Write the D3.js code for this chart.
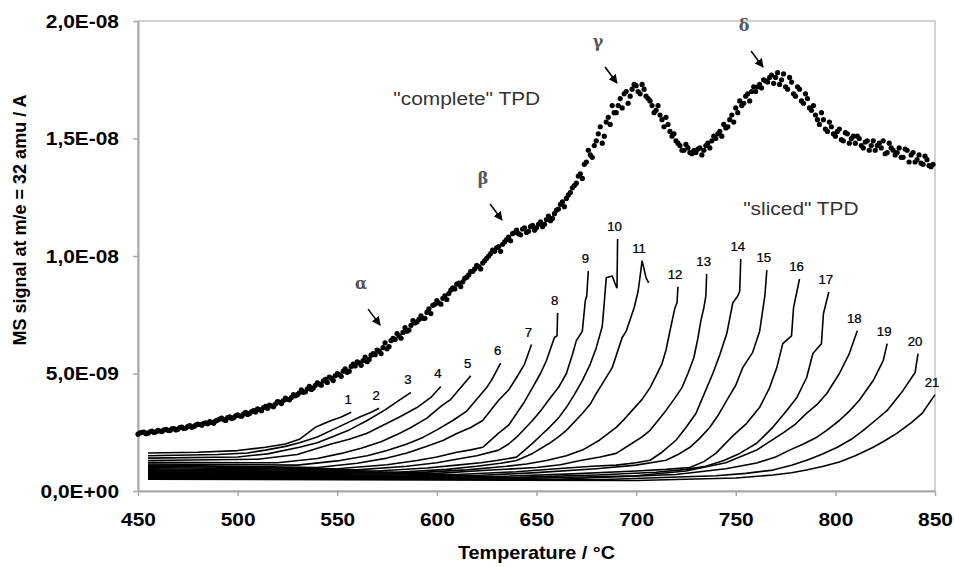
<!DOCTYPE html>
<html><head><meta charset="utf-8">
<script src="https://cdn.jsdelivr.net/npm/d3@7"></script>
<style>
html,body{margin:0;padding:0;background:#fff;}
svg{display:block;}
text{font-family:"Liberation Sans",Arial,sans-serif;}
</style></head>
<body><svg id="chart" width="954" height="567"></svg>
<script>
// ---------- DATA (signal values in units of 1e-9 A) ----------
const xTicks = [450,500,550,600,650,700,750,800,850];
const yTicks = [0,5,10,15,20];
const yTickLabels = ["0,0E+00","5,0E-09","1,0E-08","1,5E-08","2,0E-08"];

// "complete" TPD: readings at even temperatures (450, 452, ... 848 °C)
const completeEvenStart = 450, completeStep = 2;
const completeEven = [
 2.42,2.5,2.44,2.52,2.49, 2.58,2.53,2.62,2.57,2.66, 2.63,2.72,2.68,2.78,2.74,
 2.85,2.8,2.9,2.95,2.88, 3.02,3.1,3.0,3.16,3.12, 3.24,3.18,3.35,3.3,3.42,
 3.5,3.42,3.6,3.66,3.58, 3.8,3.72,3.95,3.88,4.1, 4.1,4.3,4.22,4.45,4.38,
 4.6,4.5,4.75,4.85,4.7, 5.0,4.88,5.2,5.1,5.4, 5.5,5.35,5.7,5.6,5.85,
 6.0,5.85,6.3,6.15,6.5, 6.7,6.5,6.95,6.85,7.25, 7.2,7.45,7.35,7.75,7.9,
 8.1,7.95,8.3,8.4,8.65, 8.8,8.7,9.05,9.2,9.35, 9.6,9.45,9.8,10.0,10.25,
 10.35,10.2,10.6,10.8,10.95, 11.1,10.9,11.2,11.05,11.3, 11.2,11.45,11.35,11.7,11.6,
 11.95,12.2,12.1,12.6,12.9, 13.1,13.5,13.9,14.5,14.2, 14.9,15.5,15.1,15.9,16.4,
 16.1,16.7,16.9,16.5,17.1, 17.25,16.9,17.1,16.7,16.4, 16.2,16.0,15.5,15.6,15.1,
 14.9,14.7,14.5,14.6,14.35, 14.4,14.6,14.5,14.8,14.9, 15.0,15.3,15.6,15.5,16.0,
 16.3,16.6,16.5,16.9,17.0, 17.0,17.3,17.5,17.4,17.7, 17.6,17.3,17.75,17.1,17.4,
 16.8,17.1,16.5,16.7,16.2, 16.0,15.6,15.8,15.3,15.5, 15.1,15.4,14.9,15.2,15.0,
 14.8,15.0,14.6,14.9,14.7, 14.5,14.8,14.9,14.4,14.6, 14.3,14.6,14.2,14.5,14.3,
 14.0,14.3,13.9,14.1,13.8
];
// readings at odd temperatures (451, 453, ... 849 °C)
const completeOddStart = 451;
const completeOdd = [
 2.47,2.51,2.46,2.55,2.52, 2.55,2.6,2.58,2.64,2.6, 2.7,2.66,2.75,2.71,2.8,
 2.83,2.88,2.86,2.92,2.98, 3.06,3.04,3.12,3.08,3.2, 3.2,3.28,3.26,3.38,3.36,
 3.46,3.55,3.52,3.62,3.7, 3.78,3.85,3.9,3.98,4.05, 4.18,4.2,4.35,4.32,4.5,
 4.55,4.68,4.62,4.8,4.9, 4.95,5.1,5.05,5.3,5.32, 5.45,5.55,5.5,5.78,5.8,
 5.95,6.1,6.05,6.4,6.45, 6.6,6.75,6.8,7.05,7.15, 7.3,7.35,7.6,7.55,7.95,
 8.0,8.2,8.15,8.55,8.6, 8.85,8.9,9.1,9.35,9.45, 9.55,9.7,9.9,10.1,10.2,
 10.4,10.5,10.7,10.65,11.0, 10.95,11.15,11.0,11.25,11.1, 11.35,11.25,11.55,11.5,11.8,
 12.0,12.3,12.45,12.7,13.0, 13.4,13.3,14.0,14.3,14.7, 15.2,14.8,15.7,15.6,16.1,
 16.4,16.3,17.0,16.8,17.3, 17.0,17.3,16.8,16.6,16.1, 16.4,15.8,15.9,15.3,15.2,
 14.8,14.5,14.75,14.4,14.5, 14.55,14.3,14.7,14.6,15.1, 15.2,15.1,15.45,15.8,15.7,
 16.1,16.4,16.8,16.6,17.2, 17.2,17.15,17.45,17.6,17.35, 17.8,17.5,17.2,17.6,16.9,
 17.2,16.6,16.9,16.3,16.4, 15.8,16.1,15.4,15.7,15.2, 15.3,14.95,15.25,14.8,15.1,
 15.1,14.7,14.85,14.5,14.9, 14.7,14.6,14.35,14.8,14.5, 14.4,14.2,14.55,14.0,14.4,
 14.1,13.95,14.25,13.85,13.9
];

// "sliced" TPD runs: [temperature °C, signal]
const slice1 = [[455,1.62],[480,1.65],[500,1.72],[514,1.86],[524,2.0],[531,2.2],[539,2.71],[547,3.0],[552,3.15],[557,3.35]];
const slice2 = [[455,1.5],[490,1.55],[505,1.62],[514,1.74],[524,1.9],[531,2.05],[540,2.3],[547,2.58],[555,2.9],[561,3.14],[567,3.35],[571,3.52]];
const slice3 = [[455,1.4],[500,1.45],[515,1.58],[531,1.86],[540,2.05],[547,2.29],[556,2.6],[565,3.0],[574,3.45],[581,3.86],[587,4.2]];
const slice4 = [[455,1.3],[510,1.35],[530,1.55],[547,2.0],[556,2.2],[565,2.46],[573,2.8],[581,3.14],[590,3.55],[597,3.98],[602,4.45]];
const slice5 = [[455,1.22],[520,1.2],[540,1.38],[552,1.6],[562,1.82],[572,2.1],[580,2.4],[587,2.7],[595,3.1],[602,3.6],[607,3.9],[612,4.4],[617,4.9]];
const slice6 = [[455,1.15],[530,1.1],[550,1.28],[565,1.5],[575,1.72],[585,2.0],[593,2.28],[600,2.6],[608,3.0],[615,3.4],[620,3.9],[625,4.4],[628,4.8],[632,5.44]];
const slice7 = [[455,1.1],[540,1.0],[560,1.18],[575,1.4],[585,1.62],[595,1.9],[603,2.15],[610,2.45],[617,2.7],[623,3.0],[631,3.86],[636,4.3],[640,4.83],[644,5.4],[647.5,6.23]];
const slice8 = [[455,1.05],[550,0.95],[575,1.12],[590,1.3],[600,1.45],[610,1.65],[617,1.75],[623,1.86],[631,2.46],[636,2.8],[640,3.3],[644,3.8],[648,4.4],[652,5.0],[655,5.55],[659,6.53],[660.3,6.6],[660.6,7.58]];
const slice9 = [[455,1.0],[560,0.9],[585,1.05],[600,1.2],[612,1.38],[620,1.5],[631,1.74],[636,2.0],[640,2.29],[648,3.0],[652,3.4],[656,3.86],[661,4.4],[665,5.0],[668,5.8],[670,6.4],[673,6.8],[674.5,8.1],[675.2,8.3],[676,9.36]];
const slice10 = [[455,0.95],[570,0.85],[595,0.98],[610,1.1],[622,1.2],[630,1.3],[640,1.44],[648,2.03],[652,2.35],[656.5,2.71],[661,3.1],[665,3.56],[669,4.1],[673,4.7],[677,5.4],[680,6.1],[683,7.0],[684,8.0],[685,9.07],[688,9.15],[690,8.7],[690.4,8.65],[690.7,10.72]];
const slice11 = [[455,0.9],[580,0.8],[605,0.92],[620,1.05],[632,1.18],[640,1.3],[648,1.6],[656.5,2.03],[661,2.3],[665,2.58],[673,3.3],[677,3.7],[680,4.15],[684,4.7],[688,5.25],[693,6.53],[695,6.8],[697,7.3],[699,7.8],[701,8.5],[703,9.79],[705,9.07],[706.3,8.86]];
const slice12 = [[455,0.86],[590,0.78],[615,0.9],[635,1.05],[645,1.15],[655,1.3],[665,1.5],[673,1.74],[681.6,2.16],[690,2.71],[694,3.05],[698,3.43],[703,3.9],[707,4.4],[710,4.9],[713,5.42],[715,6.0],[717,6.82],[719.5,7.8],[720.5,8.0],[721,8.69]];
const slice13 = [[455,0.82],[600,0.75],[625,0.88],[650,1.0],[662,1.12],[672,1.3],[682,1.45],[690,1.6],[698,2.03],[703,2.3],[707,2.58],[711,3.0],[715,3.43],[719,3.9],[723,4.4],[726,5.0],[729,5.68],[731,6.5],[732.5,7.25],[734,7.8],[735,8.3],[735.4,9.24]];
const slice14 = [[455,0.78],[610,0.7],[640,0.82],[660,0.95],[678,1.05],[690,1.1],[700,1.2],[707,1.31],[713,1.65],[720,2.16],[725,2.7],[730,3.3],[734,4.1],[738.5,5.0],[742,5.8],[745.5,6.7],[748.5,8.0],[751,8.3],[752,8.5],[752.5,9.87]];
const slice15 = [[455,0.74],[620,0.66],[650,0.78],[680,0.95],[700,1.1],[715,1.31],[721,1.55],[727,1.86],[732,2.25],[737,2.71],[741,3.2],[745.5,3.86],[750,4.5],[753.5,5.25],[758.5,5.9],[762,6.8],[764.6,8.3],[765.6,9.4]];
const slice16 = [[455,0.7],[630,0.62],[665,0.72],[700,0.85],[715,0.92],[727,1.0],[734,1.25],[740,1.6],[748,2.3],[755.5,2.88],[762,3.56],[767,4.4],[770.6,5.25],[773.6,6.27],[778,6.6],[779,7.8],[782,9.02]];
const slice17 = [[455,0.66],[640,0.58],[680,0.68],[710,0.8],[725,0.92],[735,1.05],[744,1.3],[752,1.6],[760.5,2.03],[768.6,2.71],[775.6,3.43],[780.7,3.98],[785.6,4.83],[788.7,5.85],[793,6.27],[794,7.54],[796.7,8.47]];
const slice18 = [[455,0.62],[650,0.55],[700,0.65],[725,0.85],[745,1.2],[760.5,1.74],[767,2.1],[773.6,2.46],[780,2.85],[785.5,3.3],[791,3.7],[795.7,4.15],[802,5.0],[807,5.85],[811,6.82]];
const slice19 = [[455,0.58],[660,0.5],[720,0.7],[745,0.95],[760.5,1.19],[770,1.45],[777,1.74],[784,2.0],[790.7,2.29],[796,2.6],[802,3.0],[807,3.4],[812,3.86],[819,4.7],[824,5.55],[826,6.27]];
const slice20 = [[455,0.54],[680,0.48],[740,0.65],[755,0.75],[768.6,0.89],[778,1.1],[785.6,1.31],[793,1.55],[801,1.86],[808,2.2],[814,2.58],[820,3.0],[826,3.43],[834,4.28],[840,5.04],[841.5,5.85]];
const slice21 = [[455,0.5],[700,0.45],[750,0.55],[768.6,0.68],[778,0.78],[785.5,0.89],[794,1.05],[802,1.23],[810,1.5],[819,1.86],[825,2.15],[831,2.46],[838,2.9],[843.5,3.3],[850,4.1]];
const slices = [slice1,slice2,slice3,slice4,slice5,slice6,slice7,slice8,slice9,slice10,slice11,
                slice12,slice13,slice14,slice15,slice16,slice17,slice18,slice19,slice20,slice21];
const sliceLabels = ["1","2","3","4","5","6","7","8","9","10","11","12","13","14","15","16","17","18","19","20","21"];

// peak annotations: letter and the point the arrow points at
const peakLetters = ["α","β","γ","δ"];
const peakTips = [[571.5,7.06],[632.7,11.53],[690.4,17.36],[763.7,18.04]];

const textLabels = ["\"complete\" TPD","\"sliced\" TPD"];
const textAnchors = [[615,16.72],[782.7,12.04]];

// ---------- LAYOUT ----------
const W = 954, H = 567;
const m = {left:138, right:954-935, top:21, bottom:567-491};
const svg = d3.select("#chart");
const x = d3.scaleLinear().domain([450,850]).range([m.left, W-m.right]);
const y = d3.scaleLinear().domain([0,20]).range([H-m.bottom, m.top]);
const SX = 1.1;

// frame
svg.append("rect").attr("x",m.left).attr("y",m.top)
  .attr("width",x(850)-x(450)).attr("height",y(0)-y(20))
  .attr("fill","none").attr("stroke","#c4c4c4").attr("stroke-width",1.5);

// axes
const gy = svg.append("g").attr("transform",`translate(${m.left},0)`)
  .call(d3.axisLeft(y).tickValues(yTicks).tickFormat((d,i)=>yTickLabels[i]).tickSize(5).tickPadding(10).tickSizeOuter(0));
const gx = svg.append("g").attr("transform",`translate(0,${H-m.bottom})`)
  .call(d3.axisBottom(x).tickValues(xTicks).tickFormat(d3.format("d")).tickSize(5).tickPadding(17).tickSizeOuter(0));
[gy,gx].forEach(g=>{
  g.select(".domain").attr("stroke","#a8a8a8").attr("stroke-width",2);
  g.selectAll(".tick line").attr("stroke","#a8a8a8").attr("stroke-width",1.5);
  g.selectAll(".tick text").attr("fill","#000").style("font-size","19px").style("font-weight","bold")
    .style("font-family","'Liberation Sans',Arial,sans-serif");
});
gy.selectAll(".tick text").each(function(){
  const t = d3.select(this); const tx = +t.attr("x");
  t.attr("x",0).attr("transform",`translate(${tx-4},0) scale(${SX},1)`);
});
gx.selectAll(".tick text").attr("transform",`scale(${SX},1)`);

// axis titles
svg.append("text").attr("transform",`translate(${(x(450)+x(850))/2},${553}) scale(${SX},1)`)
  .attr("text-anchor","middle").attr("dominant-baseline","central")
  .style("font-size","18px").style("font-weight","bold").text("Temperature / °C");
svg.append("text").attr("transform",`translate(20,${220}) rotate(-90)`)
  .attr("text-anchor","middle").attr("dominant-baseline","central")
  .style("font-size","18px").style("font-weight","bold").text("MS signal at m/e = 32 amu / A");

// sliced curves
const line = d3.line().x(d=>x(d[0])).y(d=>y(d[1]));
svg.append("g").selectAll("path").data(slices).join("path")
  .attr("d",line).attr("fill","none").attr("stroke","#000").attr("stroke-width",1.6)
  .attr("stroke-linejoin","round");

// slice labels at each run's highest point
svg.append("g").selectAll("text").data(slices).join("text")
  .attr("transform",s=>{const p = s.reduce((a,b)=>b[1]>a[1]?b:a); return `translate(${x(p[0])-3},${y(p[1])-8}) scale(${SX},1)`;})
  .attr("text-anchor","middle").style("font-size","12px").attr("fill","#000")
  .attr("stroke","#000").attr("stroke-width",0.25)
  .text((s,i)=>sliceLabels[i]);

// complete TPD dots
const completePts = completeEven.map((v,i)=>[completeEvenStart+i*completeStep, v])
  .concat(completeOdd.map((v,i)=>[completeOddStart+i*completeStep, v]));
svg.append("g").selectAll("circle").data(completePts).join("circle")
  .attr("cx",d=>x(d[0])).attr("cy",d=>y(d[1])).attr("r",2.6).attr("fill","#000");

// annotations
svg.append("defs").append("marker").attr("id","ah").attr("viewBox","0 0 10 10")
  .attr("refX",9).attr("refY",5).attr("markerWidth",9).attr("markerHeight",9)
  .attr("markerUnits","userSpaceOnUse").attr("orient","auto")
  .append("path").attr("d","M0,0L10,5L0,10Z").attr("fill","#000");
const ann = svg.append("g");
peakTips.forEach((p,i)=>{
  const tx = x(p[0]), ty = y(p[1]);
  ann.append("line").attr("x1",tx-12).attr("y1",ty-16).attr("x2",tx).attr("y2",ty)
    .attr("stroke","#000").attr("stroke-width",1.5).attr("marker-end","url(#ah)");
  ann.append("text").attr("x",tx-19).attr("y",ty-36).attr("text-anchor","middle")
    .style("font-family","'DejaVu Serif','Liberation Serif',serif").style("font-weight","bold")
    .style("font-size","16px").attr("fill","#555").text(peakLetters[i]);
});
textLabels.forEach((t,i)=>{
  const a = textAnchors[i];
  svg.append("text").attr("transform",`translate(${x(a[0])},${y(a[1])}) scale(${SX},1)`)
    .attr("text-anchor","middle").attr("dominant-baseline","central")
    .style("font-size","19px").attr("fill","#333").text(t);
});
</script></body></html>
